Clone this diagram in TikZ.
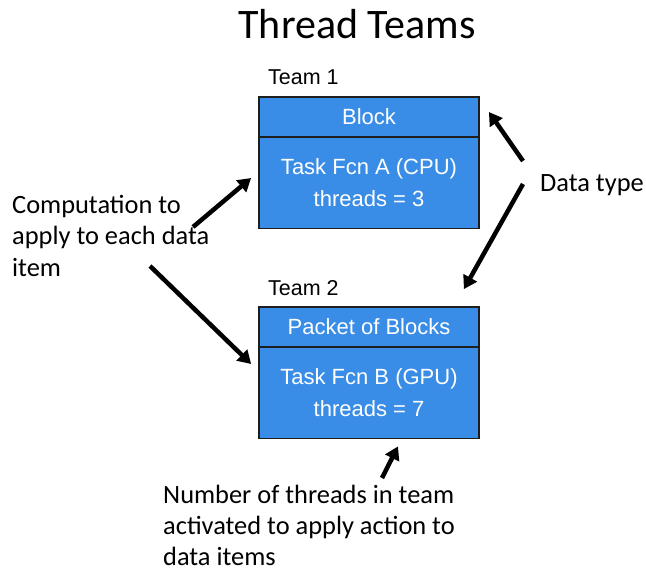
\documentclass[tikz,border=0pt]{standalone}
\usepackage{fontspec}
\setmainfont{Carlito}
\newfontfamily\helv{Liberation Sans}
\usetikzlibrary{arrows.meta,calc}
\definecolor{teamblue}{RGB}{58,141,230}
\definecolor{edgegray}{RGB}{30,30,30}
\begin{document}
\begin{tikzpicture}[x=1pt,y=-1pt,
  hdr/.style={draw=edgegray,line width=1.8pt,fill=teamblue,text=white,
    minimum width=220pt,minimum height=40pt,inner sep=0pt,
    font=\helv\fontsize{22}{26}\selectfont},
  bodybox/.style={draw=edgegray,line width=1.8pt,fill=teamblue,text=white,
    minimum width=220pt,minimum height=91pt,inner sep=0pt,align=center,
    font=\helv\fontsize{22}{32}\selectfont},
  teamlbl/.style={anchor=west,inner sep=0pt,font=\helv\fontsize{21.5}{24}\selectfont},
  note/.style={anchor=north west,inner sep=0pt,align=left,
    font=\fontsize{26.4}{31.5}\selectfont},
  arr/.style={line width=4.5pt,-{Triangle[length=13pt,width=15pt]}}]
\useasboundingbox (0,0) rectangle (646,572);

% title
\node[inner sep=0pt,font=\fontsize{42}{46}\selectfont] (title) at (357,24) {Thread Teams};

% team 1
\node[teamlbl] (t1) at (268,77) {Team 1};
\node[bodybox] (body1) at (369,183) {Task Fcn A (CPU)\\threads = 3};
\node[hdr] (hdr1) at (369,117) {\raisebox{-2pt}{Block}};

% team 2
\node[teamlbl] (t2) at (268,288) {Team 2};
\node[bodybox] (body2) at (369,393) {Task Fcn B (GPU)\\threads = 7};
\node[hdr] (hdr2) at (369,327) {\raisebox{-2pt}{Packet of Blocks}};

% annotations
\node[note] (comp) at (12,195) {Computation to\\apply to each data\\item};
\node[anchor=west,inner sep=0pt,font=\fontsize{26.4}{31.5}\selectfont] (dtype) at (540,185) {Data type};
\node[note,font=\fontsize{26.4}{31}\selectfont] (nthr) at (163,485) {Number of threads in team\\activated to apply action to\\data items};

% arrow ends
\coordinate (c1) at (193,227);
\coordinate (c2) at (150,266);
\coordinate (d1) at (523,161);
\coordinate (d2) at (523,184);
\coordinate (n1) at (382,478);

\draw[arr] (c1) -- ($(body1.west)+(-7,-5)$);
\draw[arr] (c2) -- ($(body2.west)+(-7,-29)$);
\draw[arr] (d1) -- ($(hdr1.east)+(9,-5)$);
\draw[arr] (d2) -- ($(hdr2.north east)+(-16,-17)$);
\draw[arr] (n1) -- ($(body2.south)+(29,7)$);
\end{tikzpicture}
\end{document}
